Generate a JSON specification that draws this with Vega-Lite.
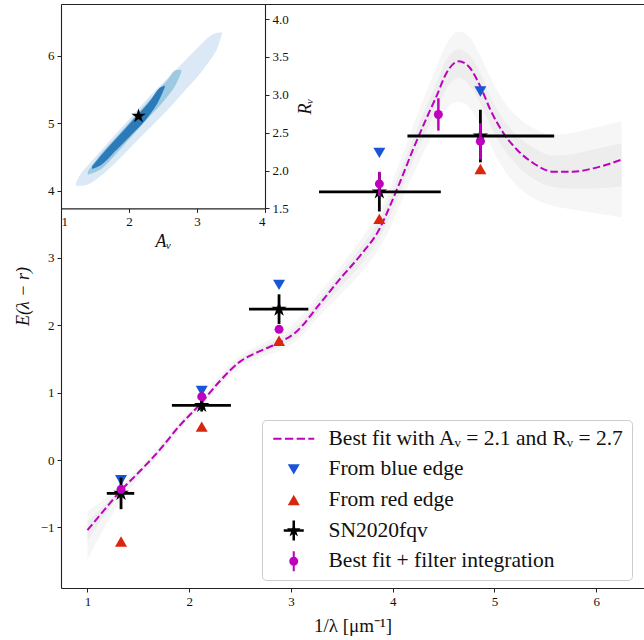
{
  "$schema": "https://vega.github.io/schema/vega-lite/v6.json",
  "width": 583,
  "height": 584,
  "autosize": "none",
  "padding": {"left": 61, "top": 4, "right": 0, "bottom": 52},
  "config": {
    "view": {"stroke": null},
    "font": "Liberation Serif",
    "axis": {"grid": false, "labelFont": "Liberation Serif", "titleFont": "Liberation Serif", "labelFontSize": 13, "titleFontSize": 18, "titleFontWeight": "normal", "domainColor": "#222222", "tickColor": "#222222", "labelColor": "#111111", "titleColor": "#111111", "tickSize": 4, "labelPadding": 3, "domainWidth": 1.1, "tickWidth": 1}
  },
  "datasets": {
    "band": [
      {"x": 1.0, "lo": -1.48, "hi": -0.76, "lo2": -1.2, "hi2": -0.92},
      {"x": 1.15, "lo": -1.05, "hi": -0.6, "lo2": -0.86, "hi2": -0.7},
      {"x": 1.33, "lo": -0.6, "hi": -0.38, "lo2": -0.5, "hi2": -0.41},
      {"x": 1.5, "lo": -0.28, "hi": -0.12, "lo2": -0.23, "hi2": -0.16},
      {"x": 1.71, "lo": 0.08, "hi": 0.21, "lo2": 0.12, "hi2": 0.18},
      {"x": 1.9, "lo": 0.44, "hi": 0.56, "lo2": 0.47, "hi2": 0.53},
      {"x": 2.12, "lo": 0.78, "hi": 0.92, "lo2": 0.82, "hi2": 0.88},
      {"x": 2.3, "lo": 1.09, "hi": 1.25, "lo2": 1.13, "hi2": 1.21},
      {"x": 2.5, "lo": 1.37, "hi": 1.55, "lo2": 1.42, "hi2": 1.5},
      {"x": 2.7, "lo": 1.52, "hi": 1.72, "lo2": 1.57, "hi2": 1.67},
      {"x": 2.88, "lo": 1.62, "hi": 1.86, "lo2": 1.68, "hi2": 1.8},
      {"x": 3.05, "lo": 1.76, "hi": 2.06, "lo2": 1.83, "hi2": 1.97},
      {"x": 3.29, "lo": 2.15, "hi": 2.5, "lo2": 2.24, "hi2": 2.41},
      {"x": 3.5, "lo": 2.48, "hi": 2.9, "lo2": 2.59, "hi2": 2.8},
      {"x": 3.7, "lo": 2.8, "hi": 3.3, "lo2": 2.93, "hi2": 3.18},
      {"x": 3.87, "lo": 3.15, "hi": 3.7, "lo2": 3.3, "hi2": 3.57},
      {"x": 3.97, "lo": 3.43, "hi": 4.03, "lo2": 3.6, "hi2": 3.9},
      {"x": 4.07, "lo": 3.78, "hi": 4.43, "lo2": 3.96, "hi2": 4.27},
      {"x": 4.2, "lo": 4.23, "hi": 4.96, "lo2": 4.44, "hi2": 4.77},
      {"x": 4.34, "lo": 4.68, "hi": 5.5, "lo2": 4.92, "hi2": 5.28},
      {"x": 4.43, "lo": 4.95, "hi": 5.83, "lo2": 5.2, "hi2": 5.6},
      {"x": 4.53, "lo": 5.22, "hi": 6.18, "lo2": 5.52, "hi2": 5.95},
      {"x": 4.65, "lo": 5.32, "hi": 6.36, "lo2": 5.67, "hi2": 6.1},
      {"x": 4.76, "lo": 5.22, "hi": 6.27, "lo2": 5.55, "hi2": 6.0},
      {"x": 4.86, "lo": 4.97, "hi": 6.0, "lo2": 5.3, "hi2": 5.75},
      {"x": 4.96, "lo": 4.67, "hi": 5.68, "lo2": 4.97, "hi2": 5.4},
      {"x": 5.09, "lo": 4.32, "hi": 5.33, "lo2": 4.62, "hi2": 5.05},
      {"x": 5.22, "lo": 4.07, "hi": 5.1, "lo2": 4.38, "hi2": 4.82},
      {"x": 5.38, "lo": 3.89, "hi": 4.93, "lo2": 4.18, "hi2": 4.64},
      {"x": 5.58, "lo": 3.77, "hi": 4.83, "lo2": 4.05, "hi2": 4.52},
      {"x": 5.77, "lo": 3.72, "hi": 4.86, "lo2": 4.03, "hi2": 4.54},
      {"x": 5.97, "lo": 3.67, "hi": 4.93, "lo2": 4.03, "hi2": 4.61},
      {"x": 6.25, "lo": 3.6, "hi": 5.03, "lo2": 4.06, "hi2": 4.7}
    ],
    "fit": [
      {"x": 1.0, "y": -1.04}, {"x": 1.15, "y": -0.77}, {"x": 1.33, "y": -0.45}, {"x": 1.5, "y": -0.19},
      {"x": 1.71, "y": 0.15}, {"x": 1.9, "y": 0.5}, {"x": 2.12, "y": 0.85}, {"x": 2.3, "y": 1.17},
      {"x": 2.5, "y": 1.46}, {"x": 2.7, "y": 1.62}, {"x": 2.88, "y": 1.74}, {"x": 3.05, "y": 1.9},
      {"x": 3.29, "y": 2.33}, {"x": 3.5, "y": 2.72}, {"x": 3.7, "y": 3.07}, {"x": 3.87, "y": 3.43},
      {"x": 3.97, "y": 3.76}, {"x": 4.07, "y": 4.12}, {"x": 4.2, "y": 4.61}, {"x": 4.34, "y": 5.1},
      {"x": 4.43, "y": 5.4}, {"x": 4.53, "y": 5.75}, {"x": 4.65, "y": 5.92}, {"x": 4.76, "y": 5.82},
      {"x": 4.86, "y": 5.55}, {"x": 4.96, "y": 5.2}, {"x": 5.09, "y": 4.85}, {"x": 5.22, "y": 4.61},
      {"x": 5.38, "y": 4.41}, {"x": 5.58, "y": 4.28}, {"x": 5.77, "y": 4.28}, {"x": 5.97, "y": 4.33},
      {"x": 6.25, "y": 4.46}
    ],
    "edges": [
      {"x": 1.33, "y": -0.3, "series": "From blue edge"},
      {"x": 2.123, "y": 1.025, "series": "From blue edge"},
      {"x": 2.883, "y": 2.6, "series": "From blue edge"},
      {"x": 3.869, "y": 4.56, "series": "From blue edge"},
      {"x": 4.862, "y": 5.47, "series": "From blue edge"},
      {"x": 1.33, "y": -1.21, "series": "From red edge"},
      {"x": 2.123, "y": 0.495, "series": "From red edge"},
      {"x": 2.883, "y": 1.77, "series": "From red edge"},
      {"x": 3.869, "y": 3.58, "series": "From red edge"},
      {"x": 4.862, "y": 4.32, "series": "From red edge"}
    ],
    "obs": [
      {"x": 1.33, "y": -0.495, "xlo": 1.19, "xhi": 1.46, "ylo": -0.73, "yhi": -0.26},
      {"x": 2.123, "y": 0.81, "xlo": 1.83, "xhi": 2.41, "ylo": 0.72, "yhi": 0.9},
      {"x": 2.883, "y": 2.24, "xlo": 2.588, "xhi": 3.171, "ylo": 2.02, "yhi": 2.46},
      {"x": 3.869, "y": 3.98, "xlo": 3.276, "xhi": 4.473, "ylo": 3.69, "yhi": 4.27},
      {"x": 4.862, "y": 4.81, "xlo": 4.145, "xhi": 5.587, "ylo": 4.42, "yhi": 5.2}
    ],
    "model": [
      {"x": 1.33, "y": -0.435, "ylo": -0.47, "yhi": -0.4},
      {"x": 2.123, "y": 0.94, "ylo": 0.9, "yhi": 0.98},
      {"x": 2.883, "y": 1.94, "ylo": 1.89, "yhi": 1.99},
      {"x": 3.869, "y": 4.1, "ylo": 3.92, "yhi": 4.28},
      {"x": 4.449, "y": 5.13, "ylo": 4.89, "yhi": 5.37},
      {"x": 4.862, "y": 4.73, "ylo": 4.46, "yhi": 5.0}
    ],
    "c1": [
      {"A": 1.22, "lo": 1.8, "hi": 1.84},
      {"A": 1.3, "lo": 1.8, "hi": 1.97},
      {"A": 1.384, "lo": 1.814, "hi": 2.057},
      {"A": 1.579, "lo": 1.924, "hi": 2.255},
      {"A": 1.822, "lo": 2.123, "hi": 2.498},
      {"A": 2.065, "lo": 2.344, "hi": 2.741},
      {"A": 2.308, "lo": 2.564, "hi": 2.984},
      {"A": 2.551, "lo": 2.785, "hi": 3.205},
      {"A": 2.793, "lo": 3.028, "hi": 3.425},
      {"A": 3.036, "lo": 3.271, "hi": 3.646},
      {"A": 3.182, "lo": 3.447, "hi": 3.77},
      {"A": 3.3, "lo": 3.62, "hi": 3.82},
      {"A": 3.367, "lo": 3.8, "hi": 3.823}
    ],
    "c2": [
      {"A": 1.394, "lo": 1.946, "hi": 1.99},
      {"A": 1.579, "lo": 2.013, "hi": 2.211},
      {"A": 1.822, "lo": 2.233, "hi": 2.454},
      {"A": 2.065, "lo": 2.476, "hi": 2.697},
      {"A": 2.308, "lo": 2.719, "hi": 2.94},
      {"A": 2.551, "lo": 2.962, "hi": 3.183},
      {"A": 2.696, "lo": 3.15, "hi": 3.328},
      {"A": 2.769, "lo": 3.3, "hi": 3.33}
    ],
    "c3": [
      {"A": 1.457, "lo": 2.021, "hi": 2.057},
      {"A": 1.579, "lo": 2.066, "hi": 2.189},
      {"A": 1.822, "lo": 2.277, "hi": 2.432},
      {"A": 2.065, "lo": 2.498, "hi": 2.675},
      {"A": 2.308, "lo": 2.741, "hi": 2.918},
      {"A": 2.453, "lo": 2.949, "hi": 3.094},
      {"A": 2.526, "lo": 3.1, "hi": 3.125}
    ],
    "best": [{"A": 2.14, "R": 2.72}]
  },
  "layer": [
    {
      "resolve": {"axis": {"x": "independent"}},
      "layer": [
        {
          "data": {"name": "band"},
          "mark": {"type": "area", "color": "#f6f6f6", "interpolate": "monotone"},
          "encoding": {
            "x": {"field": "x", "type": "quantitative", "scale": {"domain": [0.74, 6.47], "nice": false, "zero": false},
              "axis": {"orient": "bottom", "values": [1, 2, 3, 4, 5, 6], "format": "d", "title": "1/λ [μm⁻¹]", "titleFontSize": 19, "titlePadding": 8}},
            "y": {"field": "lo", "type": "quantitative", "scale": {"domain": [-1.9, 6.77], "nice": false, "zero": false},
              "axis": {"values": [-1, 0, 1, 2, 3, 4, 5, 6], "format": "d", "title": "E(λ − r)", "titleFontStyle": "italic", "titlePadding": 8}},
            "y2": {"field": "hi"}
          }
        },
        {
          "data": {"name": "band"},
          "mark": {"type": "area", "color": "#ededed", "interpolate": "monotone"},
          "encoding": {
            "x": {"field": "x", "type": "quantitative", "axis": {"orient": "top", "labels": false, "ticks": false, "title": null}},
            "y": {"field": "lo2", "type": "quantitative"},
            "y2": {"field": "hi2"}
          }
        },
        {
          "data": {"name": "fit"},
          "mark": {"type": "line", "color": "#bf00bf", "strokeWidth": 2, "strokeDash": [7.5, 3.2], "interpolate": "monotone"},
          "encoding": {
            "x": {"field": "x", "type": "quantitative", "axis": null},
            "y": {"field": "y", "type": "quantitative"}
          }
        },
        {
          "data": {"name": "edges"},
          "mark": {"type": "point", "filled": true, "opacity": 1, "size": 144, "strokeWidth": 0},
          "encoding": {
            "x": {"field": "x", "type": "quantitative", "axis": null},
            "y": {"field": "y", "type": "quantitative"},
            "color": {"field": "series", "type": "nominal",
              "scale": {"domain": ["Best fit with Aᵥ = 2.1 and Rᵥ = 2.7", "From blue edge", "From red edge", "SN2020fqv", "Best fit + filter integration"],
                "range": ["#bf00bf", "#1a55d5", "#d8260f", "#000000", "#bf00bf"]},
              "legend": {"title": null, "orient": "none", "legendX": 201, "legendY": 416, "symbolSize": 144, "symbolOffset": 13, "labelOffset": 24, "labelFontSize": 21.5, "labelFont": "Liberation Serif", "labelColor": "#111111", "padding": 8, "rowPadding": 7.6, "strokeColor": "#cccccc", "fillColor": "rgba(255,255,255,0.85)", "cornerRadius": 4, "labelLimit": 400, "symbolStrokeWidth": 0}},
            "shape": {"field": "series", "type": "nominal",
              "scale": {"domain": ["Best fit with Aᵥ = 2.1 and Rᵥ = 2.7", "From blue edge", "From red edge", "SN2020fqv", "Best fit + filter integration"],
                "range": [
                  "M-3.42,-0.17H-2.03V0.17H-3.42Z M-1.47,-0.17H-0.08V0.17H-1.47Z M0.48,-0.17H1.87V0.17H0.48Z M2.43,-0.17H3.42V0.17H2.43Z",
                  "triangle-down",
                  "triangle-up",
                  "M0,-1.2L0.269,-0.371L1.141,-0.371L0.436,0.142L0.706,0.971L0,0.458L-0.706,0.971L-0.436,0.142L-1.141,-0.371L-0.269,-0.371Z M-1.67,-0.21H1.67V0.21H-1.67Z M-0.21,-1.67H0.21V1.67H-0.21Z",
                  "M0.75,0A0.75,0.75 0 1,1 -0.75,0A0.75,0.75 0 1,1 0.75,0Z M-0.17,-1.67H0.17V1.67H-0.17Z"
                ]},
              "legend": {"title": null, "orient": "none", "legendX": 201, "legendY": 416, "symbolSize": 144, "symbolOffset": 13, "labelOffset": 24, "labelFontSize": 21.5, "labelFont": "Liberation Serif", "labelColor": "#111111", "padding": 8, "rowPadding": 7.6, "strokeColor": "#cccccc", "fillColor": "rgba(255,255,255,0.85)", "cornerRadius": 4, "labelLimit": 400, "symbolStrokeWidth": 0}}
          }
        },
        {
          "data": {"name": "obs"},
          "mark": {"type": "rule", "color": "#000000", "strokeWidth": 2.8},
          "encoding": {
            "x": {"field": "xlo", "type": "quantitative", "axis": null},
            "x2": {"field": "xhi"},
            "y": {"field": "y", "type": "quantitative"}
          }
        },
        {
          "data": {"name": "obs"},
          "mark": {"type": "rule", "color": "#000000", "strokeWidth": 2.8},
          "encoding": {
            "x": {"field": "x", "type": "quantitative", "axis": null},
            "y": {"field": "ylo", "type": "quantitative"},
            "y2": {"field": "yhi"}
          }
        },
        {
          "data": {"name": "obs"},
          "mark": {"type": "point", "filled": true, "opacity": 1, "size": 260, "color": "#000000", "strokeWidth": 0,
            "shape": "M0,-1L0.2245,-0.309L0.951,-0.309L0.363,0.118L0.588,0.809L0,0.382L-0.588,0.809L-0.363,0.118L-0.951,-0.309L-0.2245,-0.309Z"},
          "encoding": {
            "x": {"field": "x", "type": "quantitative", "axis": null},
            "y": {"field": "y", "type": "quantitative"}
          }
        },
        {
          "data": {"name": "model"},
          "mark": {"type": "rule", "color": "#bf00bf", "strokeWidth": 2.5},
          "encoding": {
            "x": {"field": "x", "type": "quantitative", "axis": null},
            "y": {"field": "ylo", "type": "quantitative"},
            "y2": {"field": "yhi"}
          }
        },
        {
          "data": {"name": "model"},
          "mark": {"type": "point", "filled": true, "opacity": 1, "size": 80, "shape": "circle", "color": "#bf00bf", "strokeWidth": 0},
          "encoding": {
            "x": {"field": "x", "type": "quantitative", "axis": null},
            "y": {"field": "y", "type": "quantitative"}
          }
        }
      ]
    },
    {
      "layer": [
        {
          "data": {"name": "c1"},
          "mark": {"type": "area", "color": "#dbe9f6", "interpolate": "monotone"},
          "encoding": {
            "x": {"field": "A", "type": "quantitative", "scale": {"domain": [1, 4], "range": [0, 204], "nice": false, "zero": false},
              "axis": {"orient": "bottom", "offset": -379.6, "values": [1, 2, 3, 4], "format": "d", "title": "Aᵥ", "titleFontStyle": "italic", "titlePadding": 4}},
            "y": {"field": "lo", "type": "quantitative", "scale": {"domain": [1.5, 4.2], "range": [204.4, 0], "nice": false, "zero": false},
              "axis": {"orient": "right", "offset": -379, "values": [1.5, 2, 2.5, 3, 3.5, 4], "format": ".1f", "title": "Rᵥ", "titleFontStyle": "italic", "titleAngle": 270, "titleX": 40, "titleY": 102, "titleAlign": "center", "titleBaseline": "middle"}},
            "y2": {"field": "hi"}
          }
        },
        {
          "data": {"name": "c2"},
          "mark": {"type": "area", "color": "#9ecae1", "interpolate": "monotone"},
          "encoding": {
            "x": {"field": "A", "type": "quantitative"},
            "y": {"field": "lo", "type": "quantitative"},
            "y2": {"field": "hi"}
          }
        },
        {
          "data": {"name": "c3"},
          "mark": {"type": "area", "color": "#2b7bba", "interpolate": "monotone"},
          "encoding": {
            "x": {"field": "A", "type": "quantitative"},
            "y": {"field": "lo", "type": "quantitative"},
            "y2": {"field": "hi"}
          }
        },
        {
          "data": {"name": "best"},
          "mark": {"type": "point", "filled": true, "opacity": 1, "size": 230, "color": "#000000", "strokeWidth": 0,
            "shape": "M0,-1L0.2245,-0.309L0.951,-0.309L0.363,0.118L0.588,0.809L0,0.382L-0.588,0.809L-0.363,0.118L-0.951,-0.309L-0.2245,-0.309Z"},
          "encoding": {
            "x": {"field": "A", "type": "quantitative"},
            "y": {"field": "R", "type": "quantitative"}
          }
        }
      ]
    }
  ],
  "resolve": {"scale": {"x": "independent", "y": "independent"}}
}
